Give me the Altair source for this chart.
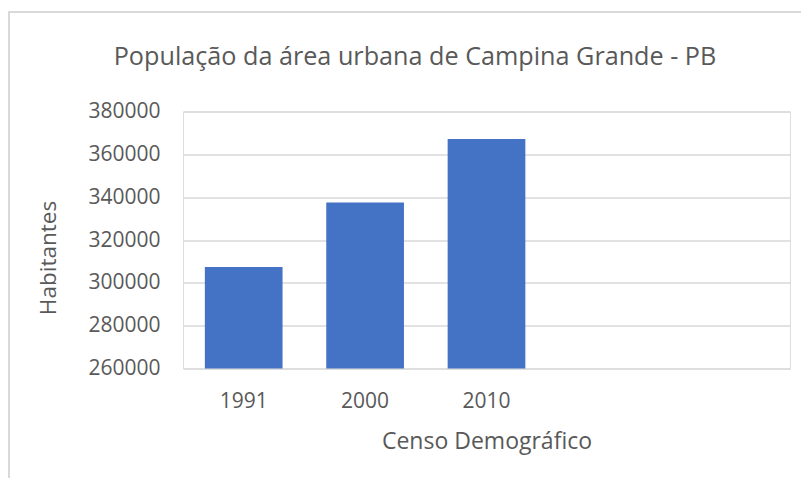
import altair as alt
import pandas as pd

# data
categories = ["1991", "2000", "2010", " ", "  "]
years = ["1991", "2000", "2010"]
habitantes = [307400, 337500, 367200]
y_ticks = [260000, 280000, 300000, 320000, 340000, 360000, 380000]

df = pd.DataFrame({"ano": years, "habitantes": habitantes})

FONT = "Open Sans"
GREY = "#595959"
GRID = "#d9d9d9"

bars = alt.Chart(df).mark_bar(color="#4472C4").encode(
    x=alt.X(
        "ano:N",
        scale=alt.Scale(domain=categories, paddingInner=0.36, paddingOuter=0.18),
        sort=None,
        axis=alt.Axis(
            title="Censo Demográfico",
            labelAngle=0,
            labelFontSize=21,
            labelColor=GREY,
            labelFont=FONT,
            labelPadding=22,
            ticks=False,
            tickSize=0,
            domain=False,
            titleFont=FONT,
            titleFontSize=23,
            titleFontWeight="normal",
            titleColor=GREY,
            titleBaseline="alphabetic",
            titleY=80,
        ),
    ),
    y=alt.Y(
        "habitantes:Q",
        scale=alt.Scale(domain=[260000, 380000], zero=False, nice=False),
        axis=alt.Axis(
            title="Habitantes",
            values=y_ticks,
            format="d",
            labelFontSize=21,
            labelColor=GREY,
            labelFont=FONT,
            labelPadding=23,
            ticks=False,
            tickSize=0,
            domain=False,
            grid=True,
            gridColor=GRID,
            gridWidth=1.3,
            titleFont=FONT,
            titleFontSize=22.5,
            titleFontWeight="normal",
            titleColor=GREY,
            titleAngle=-90,
            titleBaseline="alphabetic",
            titleAlign="center",
            titleX=-128,
            titleY=146,
        ),
    ),
    y2=alt.datum(260000),
)

border_left = alt.Chart(pd.DataFrame({"a": [0]})).mark_rule(color=GRID, strokeWidth=2).encode(
    x=alt.value(-174), y=alt.value(-99.5), y2=alt.value(400)
)
border_top = alt.Chart(pd.DataFrame({"a": [0]})).mark_rule(color=GRID, strokeWidth=2).encode(
    x=alt.value(-175), x2=alt.value(640), y=alt.value(-99.5)
)

chart = alt.layer(border_left, border_top, bars).properties(
    width=607,
    height=257,
    padding={"left": 175, "top": 103.5, "right": 11, "bottom": 109},
    autosize=alt.AutoSizeParams(type="none"),
    title=alt.TitleParams(
        "População da área urbana de Campina Grande - PB",
        font=FONT,
        fontSize=25.2,
        fontWeight="normal",
        color=GREY,
        anchor="middle",
        frame="group",
        baseline="alphabetic",
        dx=-71.5,
        dy=79,
        offset=0,
    ),
).configure_view(stroke=None).configure(background="white")

chart.save("out.html", embed_options={"renderer": "svg", "actions": False})
